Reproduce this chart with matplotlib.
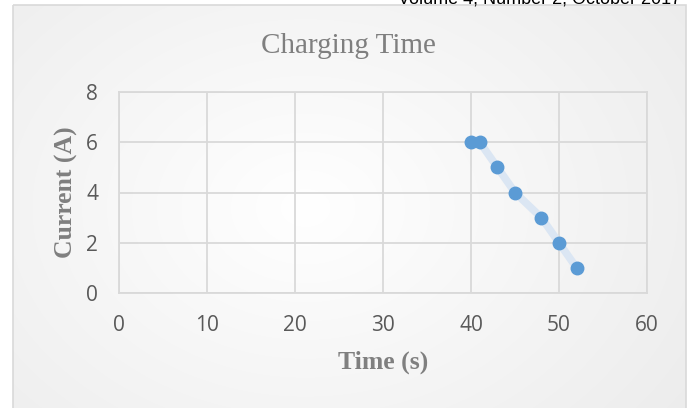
import numpy as np
import matplotlib.pyplot as plt
from matplotlib.patches import Rectangle

time_s = [40, 41, 43, 45, 48, 50, 52]
current_a = [6, 6, 5, 4, 3, 2, 1]
x_ticks = [0, 10, 20, 30, 40, 50, 60]
y_ticks = [0, 2, 4, 6, 8]

W, H = 691, 408
fig = plt.figure(figsize=(W / 100, H / 100), dpi=100)

# chart frame with soft radial shading
bg = fig.add_axes([0, 0, 1, 1], zorder=0)
bg.set_xlim(0, W)
bg.set_ylim(H, 0)
bg.axis('off')
yy, xx = np.mgrid[0:H, 0:W]
r = np.sqrt(((xx - 300) / 520.0) ** 2 + ((yy - 200) / 380.0) ** 2)
shade = 1.0 - 0.08 * np.clip(r, 0, 1)
img = np.dstack([shade, shade, shade])
bg.imshow(img, extent=[13, 686, H + 10, 5], aspect='auto', zorder=0)
bg.add_patch(Rectangle((13, 5), 673, H + 20, fill=False, edgecolor='#d9d9d9', lw=1.2, zorder=1))
bg.text(681, 4, 'Volume 4, Number 2, October 2017', ha='right', va='baseline',
        fontsize=13, family='Liberation Sans', color='black', zorder=2)

ax = fig.add_axes([119 / W, 1 - 293 / H, (647 - 119) / W, (293 - 92) / H], zorder=1)
ax.patch.set_alpha(0)
ax.plot(time_s, current_a, color='#dbe6f3', lw=5.5, solid_capstyle='round', zorder=2)
ax.plot(time_s, current_a, ls='none', marker='o', ms=9, color='#5b9bd5', zorder=3)

ax.set_xlim(0, 60)
ax.set_ylim(0, 8)
ax.set_xticks(x_ticks)
ax.set_yticks(y_ticks)
ax.grid(True, color='#d9d9d9', lw=1.3)
ax.set_axisbelow(True)
for s in ax.spines.values():
    s.set_color('#d9d9d9')
    s.set_linewidth(1.3)
ax.tick_params(length=0, labelsize=15, labelcolor='#595959')
ax.tick_params(axis='x', pad=16)
ax.tick_params(axis='y', pad=15)
for lab in ax.get_xticklabels() + ax.get_yticklabels():
    lab.set_family('Open Sans')

ax.set_xlabel('Time (s)', family='Liberation Serif', fontweight='bold',
              fontsize=18.5, color='#7f7f7f', labelpad=10)
ax.set_ylabel('Current (A)', family='Liberation Serif', fontweight='bold',
              fontsize=18.5, color='#7f7f7f', labelpad=6)

fig.text(348 / W, 1 - 46 / H, 'Charging Time', ha='center', va='center',
         family='Liberation Serif', fontsize=21, color='#7f7f7f')

fig.savefig('out.png', dpi=100)
